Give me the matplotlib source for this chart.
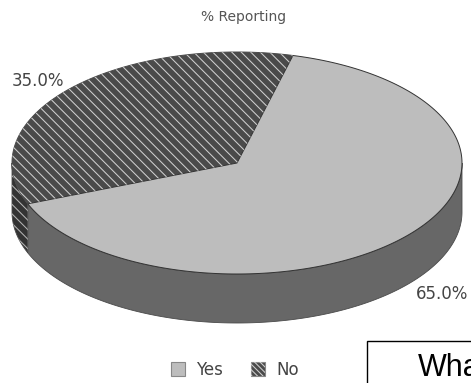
import numpy as np
import matplotlib
matplotlib.use('Agg')
import matplotlib.pyplot as plt
from matplotlib.patches import Polygon, Rectangle
from matplotlib.lines import Line2D

# 数据
categories = ['Yes', 'No']
shares = [65.0, 35.0]
title = '% Reporting'
box_text = 'What'

top_colors = {'Yes': '#bdbdbd', 'No': '#4a4a4a'}
side_colors = {'Yes': '#676767', 'No': '#333333'}
hatched = {'Yes': False, 'No': True}

# 椭圆几何 (像素坐标)
cx, cy = 237.0, 163.0
rx, ry = 225.0, 111.0
depth = 49.0
start_no = 75.6   # No 扇区起始角度 (逆时针)


def arc(a, b, dz=0.0, n=200):
    ts = np.linspace(a, b, n)
    r = np.radians(ts)
    return np.column_stack([cx + rx * np.cos(r), cy - ry * np.sin(r) + dz])


def add_hatch(ax, patch, spacing=9.5, color='#cfcfcf', lw=0.75):
    verts = patch.get_patch_transform().transform(patch.get_path().vertices)
    x0, x1 = verts[:, 0].min(), verts[:, 0].max()
    y0, y1 = verts[:, 1].min(), verts[:, 1].max()
    h = y1 - y0
    x = x0 - h
    while x < x1:
        ln = Line2D([x, x + h + 2], [y0 - 1, y1 + 1], color=color, lw=lw,
                    solid_capstyle='butt', zorder=patch.get_zorder() + 0.1)
        ax.add_line(ln)
        ln.set_clip_path(patch)
        x += spacing


fig = plt.figure(figsize=(4.71, 3.83), dpi=100)
ax = fig.add_axes([0, 0, 1, 1])
ax.set_xlim(0, 471)
ax.set_ylim(383, 0)
ax.axis('off')

# 计算扇区角度 (No 从 start_no 开始逆时针, 然后 Yes)
order = ['No', 'Yes']
spans = {}
a = start_no
for name in order:
    v = shares[categories.index(name)]
    b = a + v / sum(shares) * 360.0
    spans[name] = (a, b)
    a = b

# 侧面 (只画前半部分 180-360 度)
for name in order:
    a, b = spans[name]
    for w0, w1 in [(180, 360), (540, 720)]:
        lo, hi = max(a, w0), min(b, w1)
        if hi <= lo:
            continue
        top = arc(lo, hi)
        bot = arc(lo, hi, depth)[::-1]
        poly = Polygon(np.vstack([top, bot]), closed=True,
                       facecolor=side_colors[name], edgecolor='#4a4a4a',
                       lw=0.6, zorder=2)
        ax.add_patch(poly)
        if hatched[name]:
            add_hatch(ax, poly, color='#b5b5b5')

# 顶面
for name in order:
    a, b = spans[name]
    verts = np.vstack([[cx, cy], arc(a, b)])
    poly = Polygon(verts, closed=True, facecolor=top_colors[name],
                   edgecolor='#333333' if name == 'Yes' else '#4a4a4a',
                   lw=0.7, zorder=3)
    ax.add_patch(poly)
    if hatched[name]:
        add_hatch(ax, poly, color='#cfcfcf')

# 百分比标签
for name in order:
    a, b = spans[name]
    mid = np.radians((a + b) / 2)
    lx = cx + 3 + rx * 1.2 * np.cos(mid)
    ly = cy - ry * 1.12 * np.sin(mid)
    if np.sin(mid) < 0:
        ly += depth
    v = shares[categories.index(name)]
    ax.text(lx, ly, f'{v:.1f}%', ha='center', va='center', fontsize=12,
            color='#444444', family='DejaVu Sans', zorder=5)

# 标题
ax.text(244, 17, title, ha='center', va='center', fontsize=10,
        color='#555555', family='DejaVu Sans')

# 图例
leg_x = [171, 251]
for i, name in enumerate(categories):
    sw = Rectangle((leg_x[i], 362), 14, 14, facecolor=top_colors[name],
                   edgecolor='#888888', lw=0.8, zorder=4)
    ax.add_patch(sw)
    if hatched[name]:
        add_hatch(ax, sw, spacing=5.5, color='#cfcfcf')
    ax.text(leg_x[i] + 25, 370, name,
            ha='left', va='center', fontsize=12, color='#444444',
            family='DejaVu Sans')

# 右下角文本框
ax.add_patch(Rectangle((366.5, 340.5), 200, 60, facecolor='white',
                       edgecolor='black', lw=1.0, zorder=6, clip_on=False))
ax.text(418, 376, box_text, ha='left', va='baseline', fontsize=22,
        color='black', family='Liberation Sans', zorder=7)

fig.savefig('out.png', dpi=100)
